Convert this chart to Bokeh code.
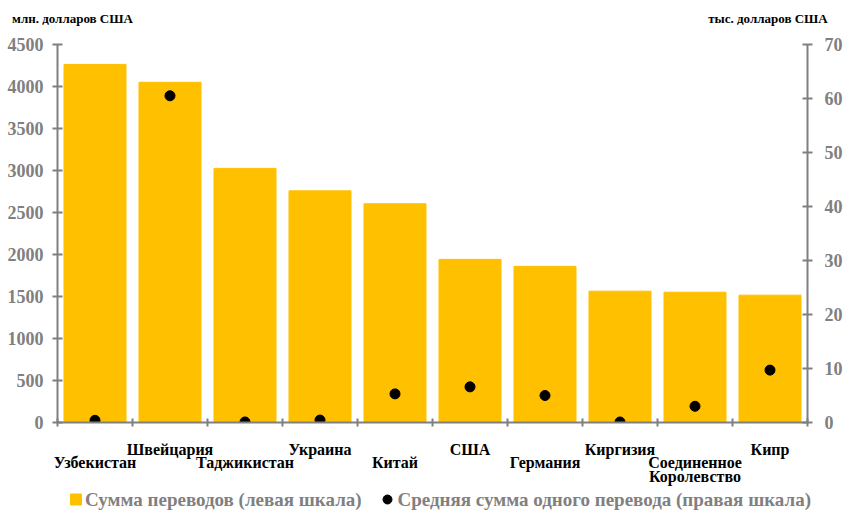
from bokeh.plotting import figure
from bokeh.layouts import column
from bokeh.models import Range1d, LinearAxis, FixedTicker, ColumnDataSource
from bokeh.core.properties import value
from bokeh.embed import file_html
from bokeh.resources import INLINE

countries = ["Узбекистан", "Швейцария", "Таджикистан", "Украина", "Китай", "США",
             "Германия", "Киргизия", "Соединенное\nКоролевство", "Кипр"]
remit_total = [4263, 4050, 3025, 2758, 2604, 1942, 1859, 1563, 1551, 1516]   # млн. долл.
remit_avg = [0.4, 60.5, 0.1, 0.45, 5.3, 6.6, 5.0, 0.1, 3.0, 9.7]             # тыс. долл.
left_ticks = [0, 500, 1000, 1500, 2000, 2500, 3000, 3500, 4000, 4500]
right_ticks = [0, 10, 20, 30, 40, 50, 60, 70]
left_unit = "млн. долларов США"
right_unit = "тыс. долларов США"
series_names = ["Сумма переводов (левая шкала)",
                "Средняя сумма одного перевода (правая шкала)"]

FONT = "Liberation Serif"
GRAY = "#808080"
YELLOW = "#FFC000"
W = 845
FL, FR = 57, 807          # frame left / right edge on the page
CAT_W = (FR - FL) / 10.0

n = len(countries)
xs = [i + 0.5 for i in range(n)]
src = ColumnDataSource(dict(x=xs, total=remit_total, avg=remit_avg))

p = figure(width=W, height=488, output_backend="svg", toolbar_location=None,
           x_range=Range1d(0, n), y_range=Range1d(0, 4500),
           min_border_left=FL, min_border_right=W - FR, min_border_top=44,
           min_border_bottom=64)
p.extra_y_ranges = {"right": Range1d(0, 70)}
p.outline_line_color = None
p.grid.visible = False

bars = p.vbar(x="x", top="total", width=0.827, source=src, color=YELLOW)
dots = p.scatter(x="x", y="avg", source=src, y_range_name="right", size=10,
                 color="black")

ya = p.yaxis[0]
ya.ticker = FixedTicker(ticks=left_ticks)
ra = LinearAxis(y_range_name="right", ticker=FixedTicker(ticks=right_ticks))
p.add_layout(ra, "right")

for ax in [ya, ra]:
    ax.axis_line_color = GRAY
    ax.axis_line_width = 2
    ax.major_tick_line_color = GRAY
    ax.major_tick_line_width = 2
    ax.major_tick_in = 5
    ax.major_tick_out = 5
    ax.minor_tick_line_color = None
    ax.major_label_text_font = FONT
    ax.major_label_text_font_style = "bold"
    ax.major_label_text_font_size = "18px"
    ax.major_label_text_color = GRAY
ya.major_label_standoff = 9
ra.major_label_standoff = 12

# category axis: labels at bar centres (staggered via leading newline), ticks at boundaries
labels = {}
for i, name in enumerate(countries):
    labels[xs[i]] = name if i % 2 == 1 else "\n" + name
xa = p.xaxis[0]
xa.ticker = FixedTicker(ticks=xs, minor_ticks=list(range(n + 1)))
xa.major_label_overrides = labels
xa.axis_line_color = GRAY
xa.axis_line_width = 2
xa.major_tick_line_color = None
xa.major_tick_in = 0
xa.major_tick_out = 0
xa.minor_tick_line_color = GRAY
xa.minor_tick_line_width = 2
xa.minor_tick_in = 4
xa.minor_tick_out = 4
xa.major_label_standoff = 14
xa.major_label_text_font = FONT
xa.major_label_text_font_style = "bold"
xa.major_label_text_font_size = "16px"
xa.major_label_text_color = "black"
xa.major_label_text_line_height = 0.82

# unit captions above the plot, as labels of an invisible top axis
cap_pos = [(72 - FL) / CAT_W, (767.5 - FL) / CAT_W]
ta = LinearAxis(ticker=FixedTicker(ticks=cap_pos),
                major_label_overrides={cap_pos[0]: left_unit, cap_pos[1]: right_unit})
ta.axis_line_color = None
ta.major_tick_line_color = None
ta.minor_tick_line_color = None
ta.major_tick_out = 0
ta.major_tick_in = 0
ta.major_label_standoff = 19
ta.major_label_text_font = FONT
ta.major_label_text_font_style = "bold"
ta.major_label_text_font_size = "13px"
ta.major_label_text_color = "black"
p.add_layout(ta, "above")

# legend strip below the chart (drawn in page-pixel coordinates of its own figure)
lg = figure(width=W, height=22, output_backend="svg", toolbar_location=None,
            y_range=Range1d(0, 1))
if "frame_align" in lg.properties():
    lg.frame_align = False
    lg.x_range = Range1d(0, W)
    lg.min_border_left = lg.min_border_right = 0
else:
    lg.x_range = Range1d(FL, FR)
    lg.min_border_left, lg.min_border_right = FL, W - FR
lg.min_border_top = lg.min_border_bottom = 0
lg.axis.visible = False
lg.grid.visible = False
lg.outline_line_color = None
key_x = [75.5, 387]
lg.scatter(x=key_x[:1], y=[0.5], marker="square", size=11, color=YELLOW)
lg.scatter(x=key_x[1:], y=[0.5], marker="circle", size=9, color="black")
lg.text(x=[key_x[0] + 9, key_x[1] + 10], y=[0.5, 0.5], text=series_names,
        text_font=value(FONT), text_font_style="bold", text_font_size="19px",
        text_color=GRAY, text_baseline="middle", text_align="left")

open("out.html", "w").write(file_html(column(p, lg, spacing=0), INLINE))
